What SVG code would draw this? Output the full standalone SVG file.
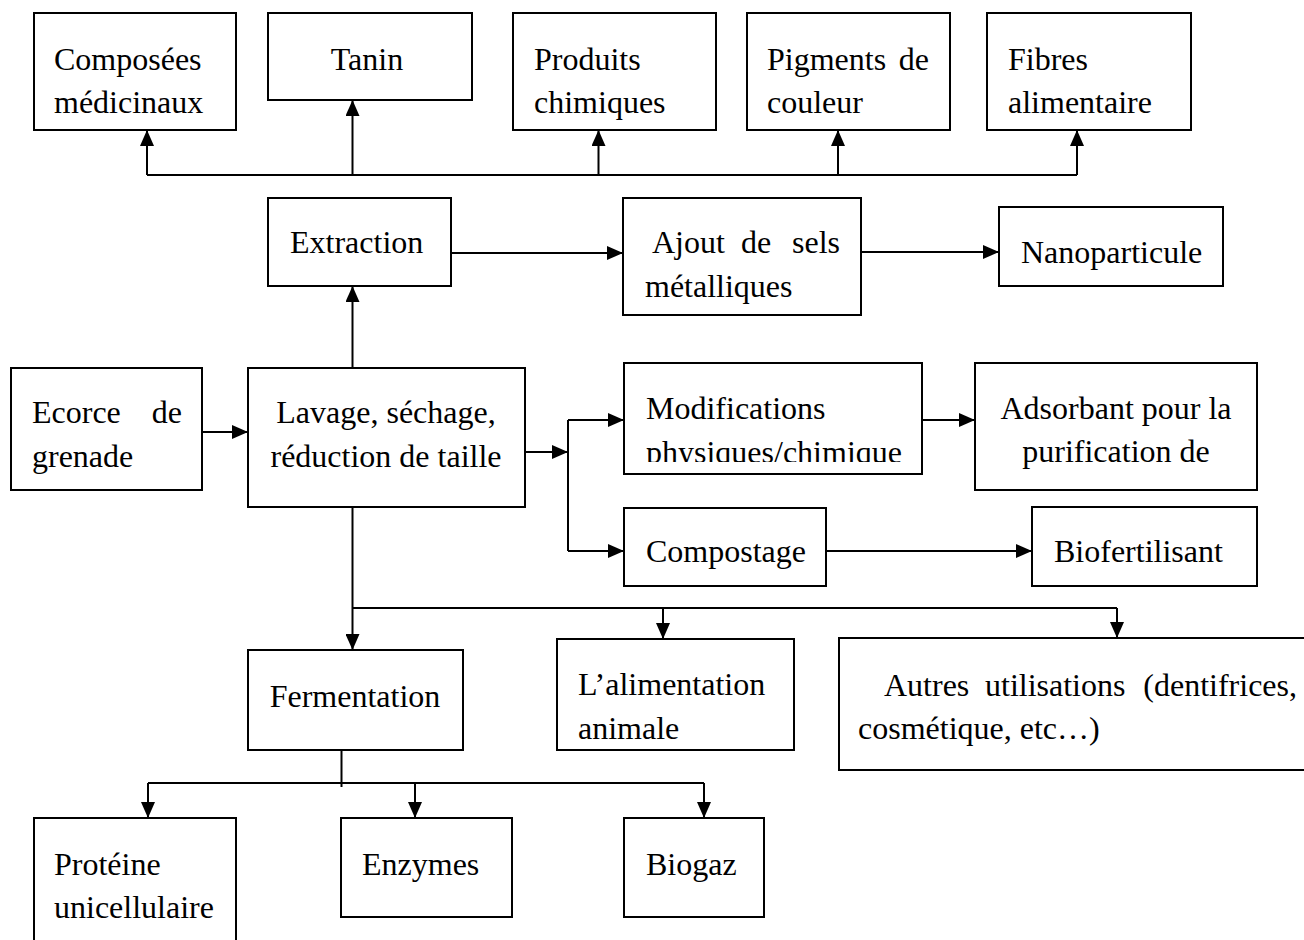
<svg xmlns="http://www.w3.org/2000/svg" width="1304" height="940" viewBox="0 0 1304 940">
<style>
.box{fill:#fff;stroke:#000;stroke-width:2}
.t{font-family:"Liberation Serif","Times New Roman",serif;font-size:32px;fill:#000}
.c{fill:none;stroke:#000;stroke-width:2}
</style>
<defs>
<marker id="ah" markerWidth="16" markerHeight="14" refX="16" refY="7" orient="auto" markerUnits="userSpaceOnUse"><path d="M0,0 L16,7 L0,14 Z" fill="#000"/></marker>
<clipPath id="clipMod"><rect x="624" y="363" width="298" height="99"/></clipPath>
</defs>
<rect width="1304" height="940" fill="#fff"/>
<g id="connectors">
<path class="c" d="M147,175 H1077"/>
<path class="c" d="M147,175 V130" marker-end="url(#ah)"/>
<path class="c" d="M352.5,175 V100" marker-end="url(#ah)"/>
<path class="c" d="M598.5,175 V130" marker-end="url(#ah)"/>
<path class="c" d="M838,175 V130" marker-end="url(#ah)"/>
<path class="c" d="M1077,175 V130" marker-end="url(#ah)"/>
<path class="c" d="M352.5,368 V286" marker-end="url(#ah)"/>
<path class="c" d="M451,253 H623" marker-end="url(#ah)"/>
<path class="c" d="M861,252 H999" marker-end="url(#ah)"/>
<path class="c" d="M202,432 H248" marker-end="url(#ah)"/>
<path class="c" d="M517,452 H568" marker-end="url(#ah)"/>
<path class="c" d="M568,420 V551"/>
<path class="c" d="M568,420 H624" marker-end="url(#ah)"/>
<path class="c" d="M568,551 H624" marker-end="url(#ah)"/>
<path class="c" d="M922,420 H975" marker-end="url(#ah)"/>
<path class="c" d="M826,551 H1032" marker-end="url(#ah)"/>
<path class="c" d="M352.5,507 V650" marker-end="url(#ah)"/>
<path class="c" d="M352.5,608 H1117"/>
<path class="c" d="M663,608 V639" marker-end="url(#ah)"/>
<path class="c" d="M1117,608 V638" marker-end="url(#ah)"/>
<path class="c" d="M341.5,750 V787"/>
<path class="c" d="M148,783 H704"/>
<path class="c" d="M148,783 V818" marker-end="url(#ah)"/>
<path class="c" d="M415,783 V818" marker-end="url(#ah)"/>
<path class="c" d="M704,783 V818" marker-end="url(#ah)"/>
</g>
<g id="composees"><rect class="box" x="34" y="13" width="202" height="117"/><text class="t" x="54" y="70">Composées</text><text class="t" x="54" y="113">médicinaux</text></g>
<g id="tanin"><rect class="box" x="268" y="13" width="204" height="87"/><text class="t" x="367" y="70" text-anchor="middle">Tanin</text></g>
<g id="produits"><rect class="box" x="513" y="13" width="203" height="117"/><text class="t" x="534" y="70">Produits</text><text class="t" x="534" y="113">chimiques</text></g>
<g id="pigments"><rect class="box" x="747" y="13" width="203" height="117"/><text class="t" x="767" y="70">Pigments</text><text class="t" x="929" y="70" text-anchor="end">de</text><text class="t" x="767" y="113">couleur</text></g>
<g id="fibres"><rect class="box" x="987" y="13" width="204" height="117"/><text class="t" x="1008" y="70">Fibres</text><text class="t" x="1008" y="113">alimentaire</text></g>
<g id="extraction"><rect class="box" x="268" y="198" width="183" height="88"/><text class="t" x="290" y="253">Extraction</text></g>
<g id="ajout"><rect class="box" x="623" y="198" width="238" height="117"/><text class="t" x="652" y="253">Ajout</text><text class="t" x="741" y="253">de</text><text class="t" x="840" y="253" text-anchor="end">sels</text><text class="t" x="645" y="297">métalliques</text></g>
<g id="nanoparticule"><rect class="box" x="999" y="207" width="224" height="79"/><text class="t" x="1021" y="263">Nanoparticule</text></g>
<g id="ecorce"><rect class="box" x="11" y="368" width="191" height="122"/><text class="t" x="32" y="423">Ecorce</text><text class="t" x="182" y="423" text-anchor="end">de</text><text class="t" x="32" y="467">grenade</text></g>
<g id="lavage"><rect class="box" x="248" y="368" width="277" height="139"/><text class="t" x="386" y="423" text-anchor="middle">Lavage, séchage,</text><text class="t" x="386" y="467" text-anchor="middle">réduction de taille</text></g>
<g id="modifications"><rect class="box" x="624" y="363" width="298" height="111"/><text class="t" x="646" y="419">Modifications</text><text class="t" x="646" y="463" clip-path="url(#clipMod)">physiques/chimique</text></g>
<g id="adsorbant"><rect class="box" x="975" y="363" width="282" height="127"/><text class="t" x="1116" y="419" text-anchor="middle">Adsorbant pour la</text><text class="t" x="1116" y="462" text-anchor="middle">purification de</text></g>
<g id="compostage"><rect class="box" x="624" y="508" width="202" height="78"/><text class="t" x="646" y="562">Compostage</text></g>
<g id="biofertilisant"><rect class="box" x="1032" y="507" width="225" height="79"/><text class="t" x="1054" y="562">Biofertilisant</text></g>
<g id="fermentation"><rect class="box" x="248" y="650" width="215" height="100"/><text class="t" x="355" y="707" text-anchor="middle">Fermentation</text></g>
<g id="alimentation"><rect class="box" x="557" y="639" width="237" height="111"/><text class="t" x="578" y="695">L’alimentation</text><text class="t" x="578" y="739">animale</text></g>
<g id="autres"><rect class="box" x="839" y="638" width="475" height="132"/><text class="t" x="884" y="696">Autres</text><text class="t" x="985" y="696">utilisations</text><text class="t" x="1297" y="696" text-anchor="end">(dentifrices,</text><text class="t" x="858" y="739">cosmétique, etc…)</text></g>
<g id="proteine"><rect class="box" x="34" y="818" width="202" height="135"/><text class="t" x="54" y="875">Protéine</text><text class="t" x="54" y="918">unicellulaire</text></g>
<g id="enzymes"><rect class="box" x="341" y="818" width="171" height="99"/><text class="t" x="362" y="875">Enzymes</text></g>
<g id="biogaz"><rect class="box" x="624" y="818" width="140" height="99"/><text class="t" x="646" y="875">Biogaz</text></g>
</svg>
